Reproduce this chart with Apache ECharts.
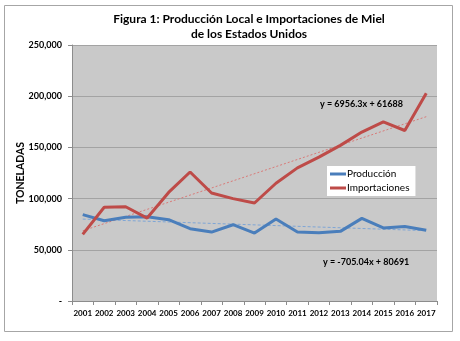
<!DOCTYPE html>
<html><head><meta charset="utf-8">
<script src="https://cdn.jsdelivr.net/npm/echarts@6/dist/echarts.min.js"></script>
<style>html,body{margin:0;padding:0;background:#fff}#c{width:460px;height:341px}</style>
</head><body><div id="c"></div>
<script>
var years = ['2001','2002','2003','2004','2005','2006','2007','2008','2009','2010','2011','2012','2013','2014','2015','2016','2017'];
var produccion = [84300, 78400, 81700, 82300, 79400, 70600, 67300, 74500, 66300, 80000, 67300, 66700, 68000, 80700, 71300, 72800, 69000];
var importaciones = [65000, 91500, 92000, 81000, 106000, 126000, 105500, 100000, 95700, 115000, 130000, 140500, 152000, 165000, 175000, 166500, 203000];
// trendline endpoints (2001 and 2017)
var trendProd = [80000, null, null, null, null, null, null, null, null, null, null, null, null, null, null, null, 68700];
var trendImp = [68600, null, null, null, null, null, null, null, null, null, null, null, null, null, null, null, 180000];
var yTicks = ['-', '50,000', '100,000', '150,000', '200,000', '250,000'];
var titleText = 'Figura 1: Producción Local e Importaciones de Miel\nde los Estados Unidos';
var eqImp = 'y = 6956.3x + 61688';
var eqProd = 'y = -705.04x + 80691';

var font = 'Lato, "Open Sans", sans-serif';
var chart = echarts.init(document.getElementById('c'), null, {renderer: 'canvas'});
chart.setOption({
  animation: false,
  backgroundColor: '#ffffff',
  title: {
    text: titleText, left: 249, top: 12, textAlign: 'center', padding: 0,
    textStyle: {fontFamily: font, fontSize: 12, fontWeight: 'bold', color: '#000', lineHeight: 15}
  },
  graphic: [
    {type: 'rect', shape: {x: 4.5, y: 5.5, width: 448, height: 326}, style: {fill: null, stroke: '#a6a6a6', lineWidth: 1}, z: 0},
    {type: 'text', left: 320, top: 100, style: {text: eqImp, fontFamily: font, fontSize: 9, fontWeight: 'bold', fill: '#000'}},
    {type: 'text', left: 323, top: 258, style: {text: eqProd, fontFamily: font, fontSize: 9, fontWeight: 'bold', fill: '#000'}}
  ],
  legend: {
    data: ['Producción', 'Importaciones'],
    orient: 'vertical', left: 327, top: 166,
    backgroundColor: '#ffffff', padding: [3, 6, 3, 3], itemGap: 4,
    itemWidth: 16, itemHeight: 3, icon: 'rect',
    textStyle: {fontFamily: font, fontSize: 10, color: '#000', padding: [0, 0, 0, -4]}
  },
  grid: {left: 72, right: 23, top: 45, bottom: 40, show: true, backgroundColor: '#c9c9c9', borderWidth: 0},
  xAxis: {
    type: 'category', data: years, boundaryGap: true,
    axisLine: {lineStyle: {color: '#8c8c8c'}},
    axisTick: {show: true, length: 4, lineStyle: {color: '#8c8c8c'}},
    axisLabel: {fontFamily: font, fontSize: 8, fontWeight: 'bold', color: '#000', margin: 8, interval: 0}
  },
  yAxis: {
    type: 'value', min: 0, max: 250000, interval: 50000,
    name: 'TONELADAS', nameLocation: 'middle', nameGap: 46, nameRotate: 90, nameMoveOverlap: false,
    nameTextStyle: {fontFamily: font, fontSize: 10.5, fontWeight: 'bold', color: '#000'},
    axisLine: {show: true, lineStyle: {color: '#8c8c8c'}},
    axisTick: {show: true, length: 4, lineStyle: {color: '#8c8c8c'}},
    axisLabel: {fontFamily: font, fontSize: 9, fontWeight: 'bold', color: '#000', margin: 10,
      formatter: function (v) { return yTicks[Math.round(v / 50000)]; }},
    splitLine: {lineStyle: {color: '#a3a3a3', width: 1}}
  },
  series: [
    {name: 'Producción', type: 'line', data: produccion, symbol: 'none', color: '#4a7ebb',
      lineStyle: {width: 3, color: '#4a7ebb'}, z: 3},
    {name: 'Importaciones', type: 'line', data: importaciones, symbol: 'none', color: '#be4b48',
      lineStyle: {width: 3, color: '#be4b48'}, z: 3},
    {name: 'trendProd', type: 'line', data: trendProd, connectNulls: true, symbol: 'none',
      lineStyle: {width: 1, color: '#7fa6d6', type: [3, 2]}, z: 2},
    {name: 'trendImp', type: 'line', data: trendImp, connectNulls: true, symbol: 'none',
      lineStyle: {width: 1, color: '#d97a78', type: [2, 2]}, z: 2}
  ]
});
</script></body></html>
